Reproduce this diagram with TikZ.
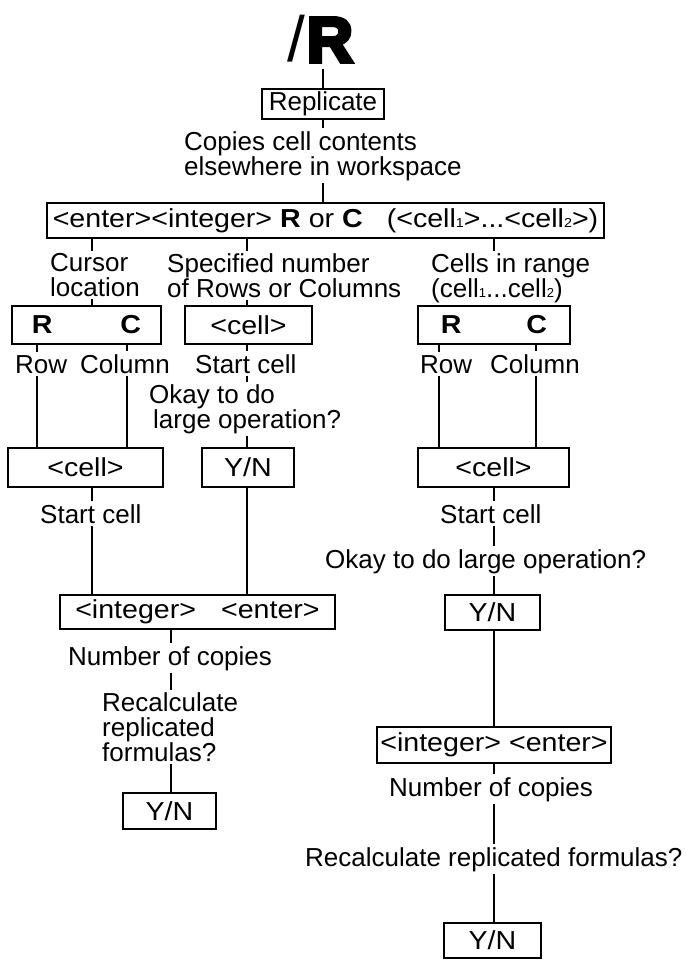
\documentclass[tikz,border=0pt]{standalone}
\usepackage{fontspec}
\setmainfont{Liberation Sans}
\newfontfamily\boxfont{Liberation Sans}[FakeStretch=1.1]
\newfontfamily\heavyfont{Liberation Sans}[UprightFeatures={FakeBold=6},BoldFeatures={FakeBold=6}]
\newcommand{\subn}[1]{{\fontsize{13}{13}\selectfont #1}}
\newcommand{\angl}{\textless}
\newcommand{\angr}{\textgreater}
\tikzset{
  box/.style={draw, line width=2pt, inner sep=0pt, font=\boxfont\fontsize{26}{26}\selectfont},
  lbl/.style={inner sep=2.5pt, font=\fontsize{26}{25}\selectfont, align=left},
  link/.style={line width=1.6pt},
}
\begin{document}
\begin{tikzpicture}[x=1pt,y=-1pt]
\fill[white] (0,0) rectangle (685,960);
\useasboundingbox (0,0) rectangle (685,960);

% x positions of connectors
\coordinate (xsp) at (323,0);
\coordinate (xA) at (92,0);
\coordinate (xB) at (247,0);
\coordinate (xC) at (494,0);
\coordinate (xR1) at (37,0);
\coordinate (xC1) at (127,0);
\coordinate (xR2) at (439,0);
\coordinate (xC2) at (536,0);
\coordinate (xN) at (171,0);

% title and top
\node[inner sep=0pt, outer ysep=6pt, anchor=base] (title) at (320,62) {\fontsize{64}{64}\selectfont /\hspace{2pt}\heavyfont\bfseries R};
\node[box, font=\fontsize{26}{26}\selectfont, minimum width=122pt, minimum height=30pt] (rep) at (323,104) {Replicate};
\node[lbl, anchor=north west] (desc) at (181.5,128.5) {Copies cell contents\\elsewhere in workspace};
\node[box, minimum width=557pt, minimum height=35pt] (cmd) at (325.5,220.5)
  {\angl enter\angr\angl integer\angr\ \textbf{R} or \textbf{C}\hspace{24pt}(\angl cell\subn{1}\angr...\angl cell\subn{2}\angr)};

% second level labels
\node[lbl, anchor=north west] (cur) at (47.5,250.5) {Cursor\\location};
\node[lbl, anchor=north west] (spec) at (164.5,250.5) {Specified number\\of Rows or Columns};
\node[lbl, anchor=north west] (rng) at (428.5,250.5) {Cells in range\\(cell\subn{1}...cell\subn{2})};

% row 1 boxes
\node[box, minimum width=149pt, minimum height=38pt] (rcL) at (86.5,325) {\textbf{R}\hspace{68pt}\textbf{C}\hspace{12pt}};
\node[box, minimum width=127pt, minimum height=38pt] (cellM) at (248.5,325) {\angl cell\angr};
\node[box, minimum width=152pt, minimum height=38pt] (rcR) at (494,325) {\textbf{R}\hspace{65pt}\textbf{C}\hspace{18pt}};

% labels under row 1
\node[lbl, anchor=base west] (rowL) at (12.5,373) {Row};
\node[lbl, anchor=base west] (colL) at (77.5,373) {Column};
\node[lbl, anchor=base west] (startM) at (192.5,373) {Start cell};
\node[lbl, anchor=north west] (okM) at (146.5,381.5) {Okay to do\\\hspace*{4pt}large operation?};
\node[lbl, anchor=base west] (rowR) at (417.5,373) {Row};
\node[lbl, anchor=base west] (colR) at (487.5,373) {Column};

% row 2 boxes
\node[box, minimum width=155pt, minimum height=39pt] (cellL) at (85.5,467.5) {\angl cell\angr};
\node[box, minimum width=92pt, minimum height=39pt] (ynM) at (248,467.5) {Y/N};
\node[box, minimum width=151pt, minimum height=39pt] (cellR) at (493.5,467.5) {\angl cell\angr};

% labels under row 2
\node[lbl, anchor=base west] (startL) at (37.5,523) {Start cell};
\node[lbl, anchor=base west] (startR) at (437.5,523) {Start cell};
\node[lbl, anchor=base west] (okR) at (322.5,568) {Okay to do large operation?};

% left lower branch
\node[box, minimum width=275pt, minimum height=34pt] (intL) at (197.5,612) {\angl integer\angr\hspace{25pt}\angl enter\angr};
\node[lbl, anchor=base west] (numL) at (65.5,665) {Number of copies};
\node[lbl, anchor=north west] (recL) at (99.5,689.5) {Recalculate\\replicated\\formulas?};
\node[box, minimum width=93pt, minimum height=36pt] (ynL) at (169.5,811) {Y/N};

% right lower branch
\node[box, minimum width=95pt, minimum height=35pt] (ynR) at (492.5,612.5) {Y/N};
\node[box, minimum width=234pt, minimum height=36pt] (intR) at (494,745) {\angl integer\angr\ \angl enter\angr};
\node[lbl, anchor=base west] (numR) at (386.5,796) {Number of copies};
\node[lbl, anchor=base west] (recR) at (302.5,866) {Recalculate replicated formulas?};
\node[box, minimum width=97pt, minimum height=35pt] (ynR2) at (492.5,940.5) {Y/N};

% connectors: spine
\draw[link] (title.south -| xsp) -- (rep.north -| xsp);
\draw[link] (rep.south -| xsp) -- (desc.north -| xsp);
\draw[link] (desc.south -| xsp) -- (cmd.north -| xsp);
\draw[link] (cmd.south -| xA) -- (cur.north -| xA);
\draw[link] (cmd.south -| xB) -- (spec.north -| xB);
\draw[link] (cmd.south -| xC) -- (rng.north -| xC);
\draw[link] (cur.south -| xA) -- (rcL.north -| xA);
\draw[link] (spec.south -| xB) -- (cellM.north -| xB);
\draw[link] (rng.south -| xC) -- (rcR.north -| xC);

% left branch
\draw[link] (rcL.south -| xR1) -- (rowL.north -| xR1);
\draw[link] (rcL.south -| xC1) -- (colL.north -| xC1);
\draw[link] (rowL.south -| xR1) -- (cellL.north -| xR1);
\draw[link] (colL.south -| xC1) -- (cellL.north -| xC1);
\draw[link] (cellL.south -| xA) -- (startL.north -| xA);
\draw[link] (startL.south -| xA) -- (intL.north -| xA);

% middle branch
\draw[link] (cellM.south -| xB) -- (startM.north -| xB);
\draw[link] (startM.south -| xB) -- (okM.north -| xB);
\draw[link] (okM.south -| xB) -- (ynM.north -| xB);
\draw[link] (ynM.south -| xB) -- (intL.north -| xB);

% lower left
\draw[link] (intL.south -| xN) -- (numL.north -| xN);
\draw[link] (numL.south -| xN) -- (recL.north -| xN);
\draw[link] (recL.south -| xN) -- (ynL.north -| xN);

% right branch
\draw[link] (rcR.south -| xR2) -- (rowR.north -| xR2);
\draw[link] (rcR.south -| xC2) -- (colR.north -| xC2);
\draw[link] (rowR.south -| xR2) -- (cellR.north -| xR2);
\draw[link] (colR.south -| xC2) -- (cellR.north -| xC2);
\draw[link] (cellR.south -| xC) -- (startR.north -| xC);
\draw[link] (startR.south -| xC) -- (okR.north -| xC);
\draw[link] (okR.south -| xC) -- (ynR.north -| xC);
\draw[link] (ynR.south -| xC) -- (intR.north -| xC);
\draw[link] (intR.south -| xC) -- (numR.north -| xC);
\draw[link] (numR.south -| xC) -- (recR.north -| xC);
\draw[link] (recR.south -| xC) -- (ynR2.north -| xC);
\end{tikzpicture}
\end{document}
